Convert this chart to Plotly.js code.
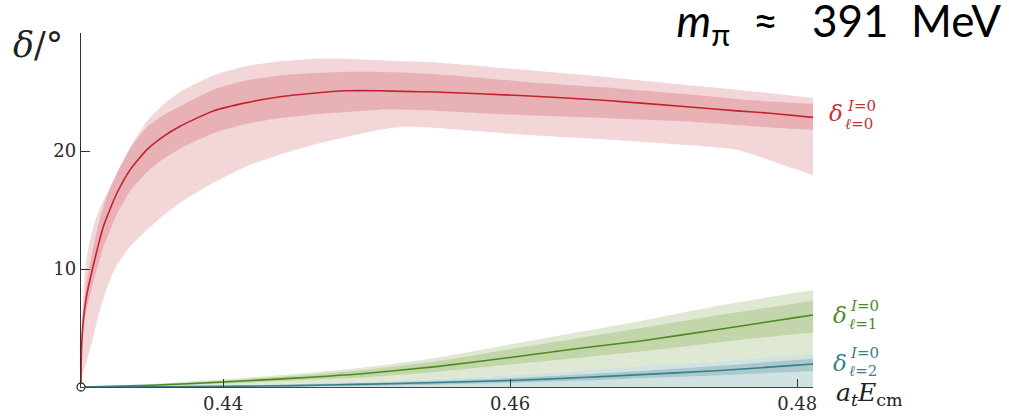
<!DOCTYPE html>
<html>
<head>
<meta charset="utf-8">
<script src="https://cdn.plot.ly/plotly-3.0.1.min.js"></script>
<style>html,body{margin:0;padding:0;background:#fff;}#chart{width:1009px;height:417px;}</style>
</head>
<body>
<div id="chart"></div>
<script>
// ---- data ----
// I=0, l=0 (red)
var xS = [0.4301, 0.43013, 0.43025, 0.4305, 0.4309, 0.4313, 0.43166, 0.4321, 0.43259, 0.43352, 0.43468, 0.4358, 0.437, 0.43932, 0.44165, 0.44397, 0.44627, 0.4486, 0.45094, 0.4525, 0.45489, 0.4607, 0.46648, 0.47231, 0.4758, 0.47812, 0.4811];
var sCentral = [0, 3, 5.5, 7.8, 10, 12, 13.6, 15.0, 16.4, 18.4, 20.1, 21.2, 22.1, 23.4, 24.1, 24.6, 24.9, 25.1, 25.1, 25.05, 25.0, 24.7, 24.3, 23.75, 23.4, 23.2, 22.85];
var sInnerHi = [0, 3.5, 6.3, 9.0, 11.5, 13.7, 15.3, 16.8, 18.1, 20.2, 22.0, 23.0, 23.8, 25.2, 26.0, 26.4, 26.6, 26.7, 26.7, 26.65, 26.5, 25.9, 25.4, 24.8, 24.4, 24.2, 24.0];
var sInnerLo = [0, 2.5, 4.7, 6.6, 8.6, 10.4, 11.9, 13.2, 14.6, 16.6, 18.2, 19.3, 20.2, 21.5, 22.3, 22.8, 23.1, 23.3, 23.5, 23.5, 23.4, 23.05, 22.8, 22.5, 22.2, 22.0, 21.8];
var sOuterHi = [0, 4.5, 7.5, 11, 13.3, 14.8, 15.8, 16.8, 18.0, 20.3, 22.5, 23.9, 25.0, 26.4, 27.2, 27.6, 27.8, 27.8, 27.7, 27.6, 27.5, 26.9, 26.3, 25.6, 25.2, 24.9, 24.5];
var sOuterLo = [0, 0.5, 1.2, 2.2, 4.0, 6.0, 7.5, 9.0, 10.3, 11.9, 13.3, 14.5, 15.6, 17.3, 18.7, 19.7, 20.5, 21.2, 21.8, 22.05, 21.95, 21.4, 21.0, 20.5, 20.1, 19.2, 17.95];

// I=0, l=1 (green) and l=2 (teal)
var xPD = [0.4301, 0.435, 0.44, 0.445, 0.4495, 0.455, 0.46, 0.465, 0.4691, 0.4746, 0.48, 0.4811];
var pCentral = [0, 0.15, 0.42, 0.75, 1.1, 1.75, 2.5, 3.3, 3.9, 4.9, 5.9, 6.1];
var pInnerHi = [0, 0.2, 0.55, 0.95, 1.4, 2.2, 3.2, 4.2, 5.0, 6.1, 7.1, 7.3];
var pInnerLo = [0, 0.1, 0.3, 0.55, 0.8, 1.3, 1.9, 2.5, 3.0, 3.8, 4.5, 4.6];
var pOuterHi = [0, 0.25, 0.65, 1.1, 1.6, 2.5, 3.6, 4.7, 5.6, 6.9, 8.0, 8.2];
var pOuterLo = [0, 0.05, 0.15, 0.3, 0.45, 0.7, 1.0, 1.4, 1.7, 2.2, 2.6, 2.7];

var dCentral = [0, 0.02, 0.05, 0.12, 0.22, 0.38, 0.55, 0.8, 1.05, 1.4, 1.85, 1.95];
var dInnerHi = [0, 0.04, 0.1, 0.2, 0.33, 0.53, 0.75, 1.05, 1.35, 1.8, 2.3, 2.4];
var dInnerLo = [0, 0, 0.02, 0.05, 0.1, 0.2, 0.35, 0.55, 0.75, 1.0, 1.3, 1.35];
var dOuterHi = [0, 0.06, 0.15, 0.3, 0.45, 0.7, 1.0, 1.4, 1.75, 2.2, 2.7, 2.8];
var dOuterLo = [0, 0, 0, 0, 0, 0, 0, 0, 0, 0, 0, 0];

var thresholdX = [0.4301];
var thresholdY = [0];
var xTicks = [0.44, 0.46, 0.48];
var xTickText = ['0.44', '0.46', '0.48'];
var yTicks = [10, 20];
var yTickText = ['10', '20'];

// ---- helpers ----
var SM = 0.55;
function band(x, hi, lo, color) {
  return [
    {x: x, y: lo, type: 'scatter', mode: 'lines',
     line: {width: 0, color: color, shape: 'spline', smoothing: SM},
     hoverinfo: 'skip', showlegend: false},
    {x: x, y: hi, type: 'scatter', mode: 'lines', fill: 'tonexty', fillcolor: color,
     line: {width: 0, color: color, shape: 'spline', smoothing: SM},
     hoverinfo: 'skip', showlegend: false}
  ];
}
function curve(x, y, color) {
  return {x: x, y: y, type: 'scatter', mode: 'lines',
          line: {color: color, width: 1.6, shape: 'spline', smoothing: SM},
          hoverinfo: 'skip', showlegend: false};
}

var red = {outer: '#f2d6d8', inner: '#e8b1b5', line: '#c4222e'};
var grn = {outer: '#dfe8d2', inner: '#c3d6ab', line: '#4d8a1c'};
var tea = {outer: '#d1e2e3', inner: '#a9c9cc', line: '#3a7f8c'};

var data = [].concat(
  band(xS, sOuterHi, sOuterLo, red.outer),
  band(xS, sInnerHi, sInnerLo, red.inner),
  band(xPD, pOuterHi, pOuterLo, grn.outer),
  band(xPD, pInnerHi, pInnerLo, grn.inner),
  band(xPD, dOuterHi, dOuterLo, tea.outer),
  band(xPD, dInnerHi, dInnerLo, tea.inner),
  [curve(xS, sCentral, red.line),
   curve(xPD, pCentral, grn.line),
   curve(xPD, dCentral, tea.line),
   {x: thresholdX, y: thresholdY, type: 'scatter', mode: 'markers', cliponaxis: false,
    marker: {symbol: 'circle', size: 8, color: '#ffffff', line: {color: '#333333', width: 1.3}},
    hoverinfo: 'skip', showlegend: false}]
);

// pixel -> paper helpers for text placement
var L = 81, R = 196, T = 33, B = 30, W = 1009, H = 417;
function px(x) { return (x - L) / (W - L - R); }
function py(y) { return (H - B - y) / (H - T - B); }

var serif = 'DejaVu Serif, serif';
function ann(text, x, y, size, color, xanchor, family) {
  return {text: text, xref: 'paper', yref: 'paper', x: px(x), y: py(y),
          xanchor: xanchor || 'center', yanchor: 'middle', showarrow: false,
          font: {family: family || serif, size: size, color: color}};
}

var annotations = [
  ann('<i>δ</i>/°', 38, 45, 35, '#222222', 'center'),
  ann('<i>δ</i>', 836, 113, 23, '#c2303a'),
  ann('<i>I</i>=0', 845, 106, 15, '#c2303a', 'left'),
  ann('<i>ℓ</i>=0', 843, 124, 15, '#c2303a', 'left'),
  ann('<i>δ</i>', 840, 315, 23, '#4c8a2a'),
  ann('<i>I</i>=0', 848, 306, 15, '#4c8a2a', 'left'),
  ann('<i>ℓ</i>=1', 847, 324, 15, '#4c8a2a', 'left'),
  ann('<i>δ</i>', 840, 363, 23, '#3a7f8a'),
  ann('<i>I</i>=0', 848, 353, 15, '#3a7f8a', 'left'),
  ann('<i>ℓ</i>=2', 847, 371, 15, '#3a7f8a', 'left'),
  ann('<i>a</i><sub><i>t</i></sub><i>E</i><sub>cm</sub>', 834, 394, 25, '#222222', 'left')
];

var NB = '\u00a0';
var layout = {
  width: W, height: H,
  margin: {l: L, r: R, t: T, b: B, pad: 0},
  paper_bgcolor: '#ffffff', plot_bgcolor: '#ffffff',
  showlegend: false,
  title: {text: '<i>m</i><sub>π</sub>' + NB + NB + '≈' + NB + NB + NB + '391' + NB + NB + 'MeV',
          xref: 'container', yref: 'container',
          x: 1001 / W, xanchor: 'right', y: 1 - 6 / H, yanchor: 'top',
          font: {family: 'Lato, Open Sans, sans-serif', size: 44, color: '#000000'}},
  xaxis: {
    range: [0.4301, 0.4811], showgrid: false, zeroline: false,
    showline: true, linecolor: '#444444', linewidth: 1.2,
    ticks: 'inside', ticklen: 8, tickwidth: 1, tickcolor: '#333333',
    tickvals: xTicks, ticktext: xTickText,
    tickfont: {family: serif, size: 18, color: '#2a2a2a'}
  },
  yaxis: {
    range: [0, 30], showgrid: false, zeroline: false,
    showline: true, linecolor: '#333333', linewidth: 1.2,
    ticks: 'inside', ticklen: 9, tickwidth: 1, tickcolor: '#333333',
    tickvals: yTicks, ticktext: yTickText,
    tickfont: {family: serif, size: 18, color: '#2a2a2a'}
  },
  annotations: annotations
};

Plotly.newPlot('chart', data, layout, {staticPlot: true, displayModeBar: false});
</script>
</body>
</html>
